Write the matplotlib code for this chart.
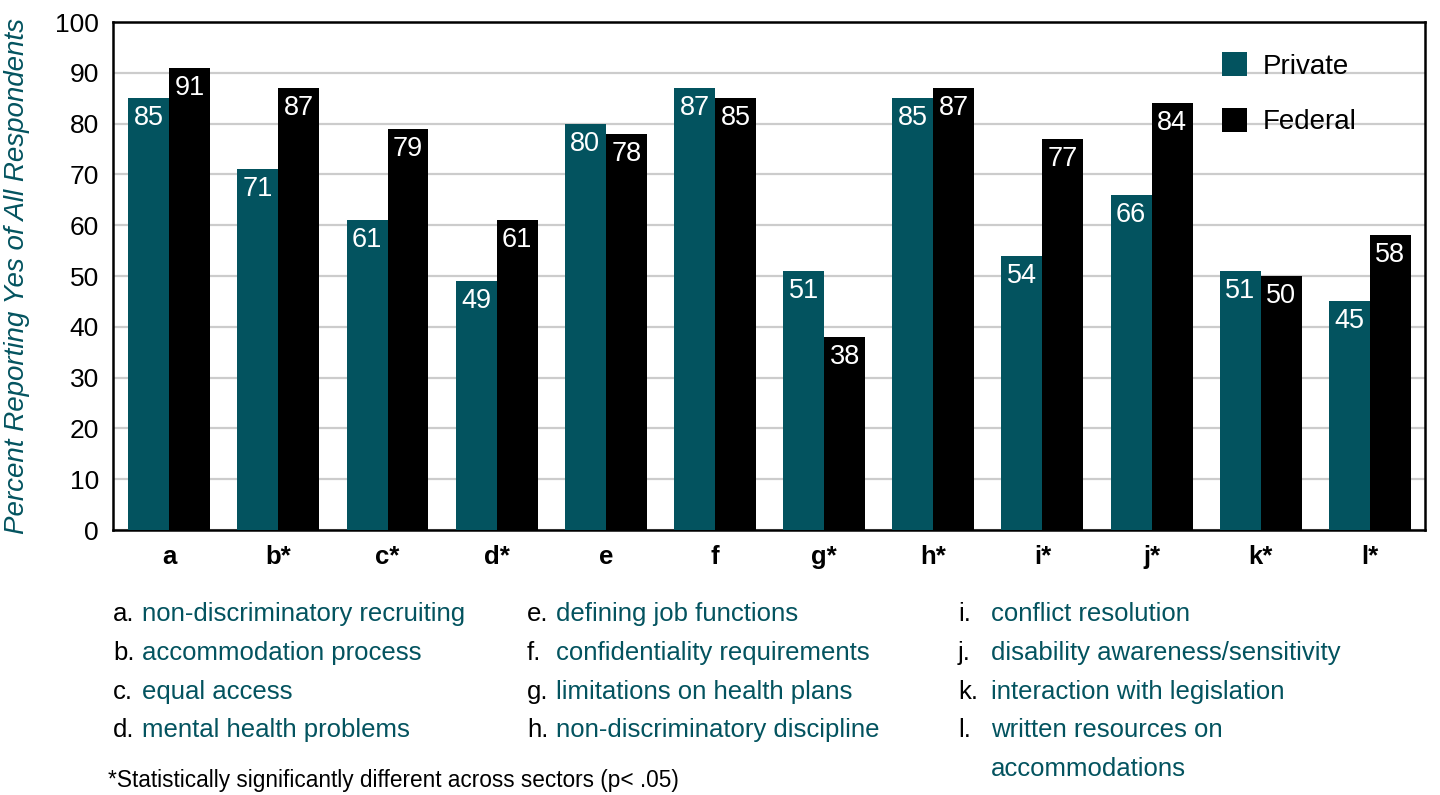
import matplotlib
matplotlib.use("Agg")
import matplotlib.pyplot as plt
import numpy as np

categories = ["a", "b*", "c*", "d*", "e", "f", "g*", "h*", "i*", "j*", "k*", "l*"]
private = [85, 71, 61, 49, 80, 87, 51, 85, 54, 66, 51, 45]
federal = [91, 87, 79, 61, 78, 85, 38, 87, 77, 84, 50, 58]
series_names = ["Private", "Federal"]
key_letters = ["a.", "b.", "c.", "d.", "e.", "f.", "g.", "h.", "i.", "j.", "k.", "l."]
key_texts = [["non-discriminatory recruiting"], ["accommodation process"], ["equal access"],
             ["mental health problems"], ["defining job functions"], ["confidentiality requirements"],
             ["limitations on health plans"], ["non-discriminatory discipline"], ["conflict resolution"],
             ["disability awareness/sensitivity"], ["interaction with legislation"],
             ["written resources on", "accommodations"]]
footnote = "*Statistically significantly different across sectors (p< .05)"
y_label = "Percent Reporting Yes of All Respondents"

TEAL = "#03535F"
plt.rcParams['font.family'] = ['Liberation Sans', 'DejaVu Sans']

W, H = 1440, 795
fig = plt.figure(figsize=(W / 100, H / 100), dpi=100)
ax = fig.add_axes([113 / W, 1 - 530 / H, (1425 - 113) / W, (530 - 22) / H])

x = np.arange(len(categories))
bw = 0.375
b1 = ax.bar(x - bw / 2, private, bw, color=TEAL, label=series_names[0], zorder=3)
b2 = ax.bar(x + bw / 2, federal, bw, color="black", label=series_names[1], zorder=3)

for bars, vals in ((b1, private), (b2, federal)):
    for r, v in zip(bars, vals):
        ax.annotate(str(v), (r.get_x() + r.get_width() / 2, v), xytext=(0, -5),
                    textcoords="offset points", ha="center", va="top",
                    color="white", fontsize=19.5, zorder=4)

ax.set_xlim(-0.515, 11.505)
ax.set_ylim(0, 100)
ax.set_yticks(range(0, 101, 10))
ax.set_yticklabels([str(v) for v in range(0, 101, 10)], fontsize=19, fontweight="medium")
ax.set_xticks(x)
ax.set_xticklabels(categories, fontsize=18.5, fontweight="bold")
ax.tick_params(axis="both", length=0)
ax.tick_params(axis="y", pad=10)
ax.tick_params(axis="x", pad=11)
ax.yaxis.grid(True, color="#cccccc", linewidth=1.6, zorder=0)
ax.set_axisbelow(True)
for s in ax.spines.values():
    s.set_linewidth(1.8)
    s.set_color("black")

ax.set_ylabel(y_label, fontsize=20, style="italic", color=TEAL)
ax.yaxis.set_label_coords(-(113 - 30) / 1312, 0.5)

leg = ax.legend(loc="upper left", bbox_to_anchor=((1222 - 113) / 1312, (530 - 52) / 508),
                frameon=False, fontsize=20, handlelength=0.9, handleheight=0.95,
                labelspacing=1.02, handletextpad=0.55, borderpad=0, borderaxespad=0)

# key below chart
col_letter_x = [113, 527, 958]
col_text_x = [142, 556, 991]
row_y = [614, 653, 692, 730, 769]
for i, (lt, lines) in enumerate(zip(key_letters, key_texts)):
    c, r = divmod(i, 4)
    fig.text(col_letter_x[c] / W, 1 - row_y[r] / H, lt, fontsize=18.5, color="black",
             va="center", ha="left")
    for k, line in enumerate(lines):
        fig.text(col_text_x[c] / W, 1 - row_y[r + k] / H, line, fontsize=18.5, color=TEAL,
                 va="center", ha="left")

fig.text(108 / W, 1 - 781 / H, footnote, fontsize=16.3, color="black", va="center", ha="left")

fig.savefig("out.png", dpi=100)
